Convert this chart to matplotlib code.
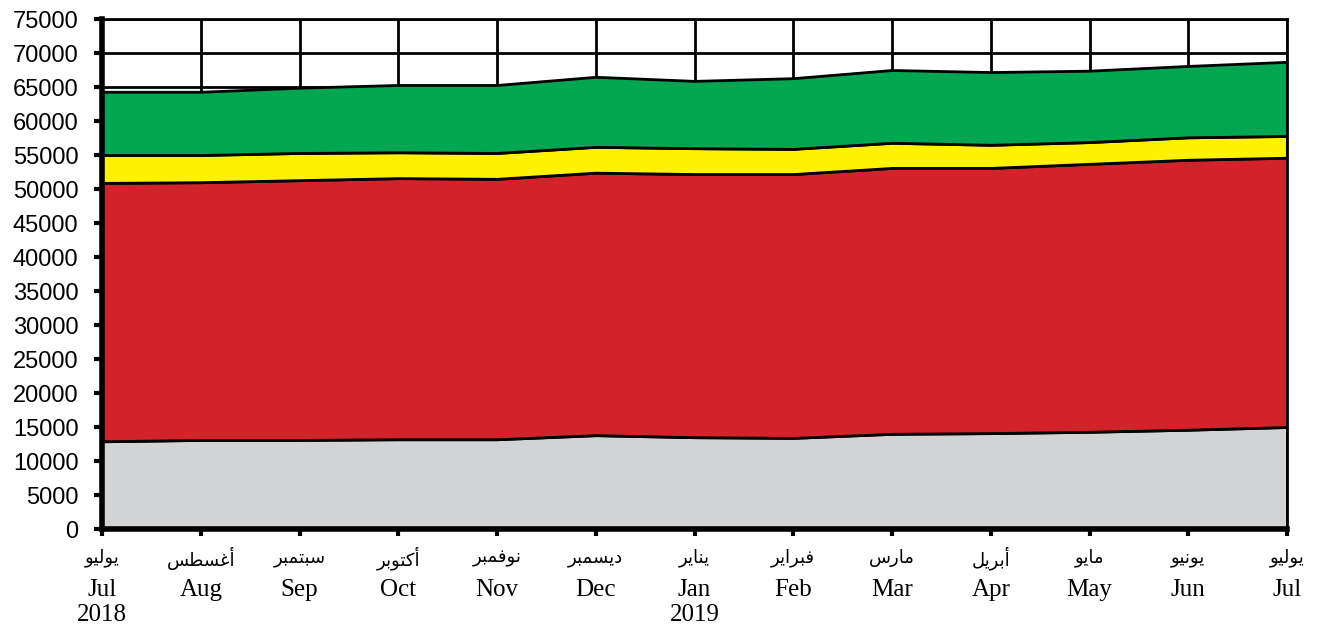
import matplotlib
matplotlib.use("Agg")
import matplotlib.pyplot as plt

months_en = ["Jul", "Aug", "Sep", "Oct", "Nov", "Dec", "Jan", "Feb", "Mar",
             "Apr", "May", "Jun", "Jul"]
years = ["2018", "", "", "", "", "", "2019", "", "", "", "", "", ""]
months_ar = ["يوليو", "أغسطس", "سبتمبر", "أكتوبر", "نوفمبر", "ديسمبر", "يناير",
             "فبراير", "مارس", "أبريل", "مايو", "يونيو", "يوليو"]

# cumulative tops
grey_top = [12900, 13100, 13100, 13200, 13200, 13800, 13500, 13400, 14000,
            14100, 14300, 14600, 15000]
red_top = [50900, 51000, 51300, 51600, 51500, 52400, 52200, 52200, 53100,
           53100, 53700, 54300, 54600]
yellow_top = [55000, 55000, 55300, 55400, 55300, 56200, 56000, 55900, 56800,
              56500, 56900, 57600, 57800]
green_top = [64300, 64300, 64900, 65300, 65300, 66500, 65900, 66300, 67500,
             67200, 67400, 68100, 68700]

colors = ["#D1D3D4", "#D2232A", "#FFF200", "#00A651"]

# Arabic presentation forms: isolated, final, initial, medial
FORMS = {
    "ا": ("\uFE8D", "\uFE8E", None, None),
    "أ": ("\uFE83", "\uFE84", None, None),
    "ب": ("\uFE8F", "\uFE90", "\uFE91", "\uFE92"),
    "ت": ("\uFE95", "\uFE96", "\uFE97", "\uFE98"),
    "د": ("\uFEA9", "\uFEAA", None, None),
    "ر": ("\uFEAD", "\uFEAE", None, None),
    "س": ("\uFEB1", "\uFEB2", "\uFEB3", "\uFEB4"),
    "ط": ("\uFEC1", "\uFEC2", "\uFEC3", "\uFEC4"),
    "غ": ("\uFECD", "\uFECE", "\uFECF", "\uFED0"),
    "ف": ("\uFED1", "\uFED2", "\uFED3", "\uFED4"),
    "ك": ("\uFED9", "\uFEDA", "\uFEDB", "\uFEDC"),
    "ل": ("\uFEDD", "\uFEDE", "\uFEDF", "\uFEE0"),
    "م": ("\uFEE1", "\uFEE2", "\uFEE3", "\uFEE4"),
    "ن": ("\uFEE5", "\uFEE6", "\uFEE7", "\uFEE8"),
    "و": ("\uFEED", "\uFEEE", None, None),
    "ي": ("\uFEF1", "\uFEF2", "\uFEF3", "\uFEF4"),
}


def shape(word):
    # join letters by hand and put them in visual (left to right) order
    out = []
    for i, ch in enumerate(word):
        f = FORMS[ch]
        prev = i > 0 and FORMS[word[i - 1]][2] is not None
        nxt = i < len(word) - 1 and f[2] is not None
        if prev and nxt:
            g = f[3]
        elif prev:
            g = f[1]
        elif nxt:
            g = f[2]
        else:
            g = f[0]
        out.append(g)
    return "".join(reversed(out))


x = list(range(len(months_en)))
layers = [
    grey_top,
    [r - g for r, g in zip(red_top, grey_top)],
    [y - r for y, r in zip(yellow_top, red_top)],
    [g - y for g, y in zip(green_top, yellow_top)],
]

fig = plt.figure(figsize=(13.2, 6.35), dpi=100)
ax = fig.add_axes([102 / 1320, 1 - 529 / 635, (1287 - 102) / 1320, (529 - 19) / 635])

ax.stackplot(x, *layers, colors=colors, edgecolor="black", linewidth=2)

ax.set_xlim(0, len(x) - 1)
ax.set_ylim(0, 75000)
ax.set_yticks(range(0, 75001, 5000))
ax.set_yticklabels([str(v) for v in range(0, 75001, 5000)],
                   fontfamily="Liberation Sans", fontsize=17)
ax.set_xticks(x)
ax.set_xticklabels([m + "\n" + y if y else m for m, y in zip(months_en, years)],
                   fontfamily="Liberation Serif", fontsize=18, linespacing=1.2)
ax.tick_params(axis="x", length=5, width=3, pad=31)
ax.tick_params(axis="y", length=6, width=3, pad=11)

ax.set_axisbelow(True)
ax.grid(True, color="black", linewidth=2)

for side in ["left", "bottom"]:
    ax.spines[side].set_linewidth(4)
for side in ["top", "right"]:
    ax.spines[side].set_linewidth(2)

for xi, name in zip(x, months_ar):
    ax.annotate(shape(name), xy=(xi, 0), xycoords=("data", "axes fraction"),
                xytext=(0, -29), textcoords="offset pixels",
                ha="center", va="center", fontsize=13,
                family=["DejaVu Sans"])

fig.savefig("out.png", dpi=100)
